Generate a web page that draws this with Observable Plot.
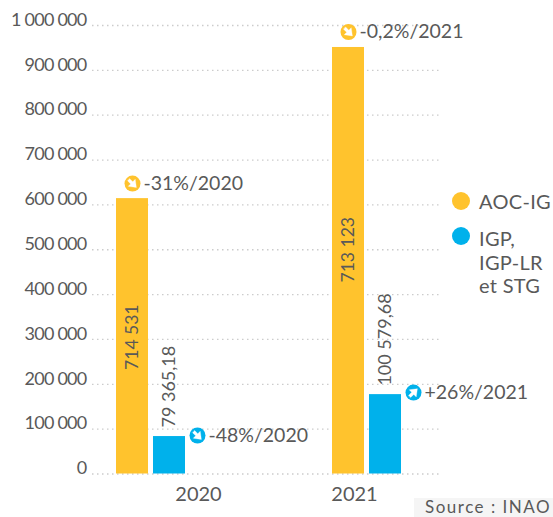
<!DOCTYPE html>
<html>
<head>
<meta charset="utf-8">
<script src="https://cdn.jsdelivr.net/npm/d3@7"></script>
<script src="https://cdn.jsdelivr.net/npm/@observablehq/plot@0.6"></script>
<style>
html,body{margin:0;padding:0;background:#fff;}
#wrap{position:relative;width:553px;height:517px;overflow:hidden;font-family:Lato,sans-serif;color:#595959;}
.dot{position:absolute;width:18px;height:18px;border-radius:50%;}
.lab{position:absolute;left:479px;font-size:20px;line-height:23.5px;letter-spacing:.3px;white-space:nowrap;}
#source{position:absolute;left:414px;top:498px;width:139px;height:19px;background:#f5f5f5;font-size:17px;line-height:17px;padding:0 0 0 11px;box-sizing:border-box;letter-spacing:1.5px;white-space:nowrap;}
g[aria-label="y-axis tick label"] text{letter-spacing:-.75px;}
</style>
</head>
<body>
<div id="wrap">
  <div id="chart"></div>
  <div class="dot" style="left:452px;top:192px;background:#FFC32D"></div>
  <div class="lab" style="top:190px">AOC-IG</div>
  <div class="dot" style="left:452px;top:227px;background:#00B1EB"></div>
  <div class="lab" style="top:227px">IGP,<br>IGP-LR<br>et STG</div>
  <div id="source">Source : INAO</div>
</div>
<script>
const series = ["AOC-IG", "IGP"];
const colors = ["#FFC32D", "#00B1EB"];
const slots = ["2020 AOC-IG", "2020 IGP", "a", "b", "c", "d", "2021 AOC-IG", "2021 IGP"];
const barSlots = ["2020 AOC-IG", "2020 IGP", "2021 AOC-IG", "2021 IGP"];
const barSeries = ["AOC-IG", "IGP", "AOC-IG", "IGP"];
const barHeights = [614000, 83500, 951000, 177000];
const valueLabels = ["714 531", "79 365,18", "713 123", "100 579,68"];
const aocLabelY = [305000, 500000];
const badgeY = [647500, 85800, 985500, 181500];
const badgeText = ["-31%/2020", "-48%/2020", "-0,2%/2021", "+26%/2021"];
const badgeAngle = [135, 135, 135, 45];
const yTicks = [0, 100000, 200000, 300000, 400000, 500000, 600000, 700000, 800000, 900000, 1000000];

const rows = barSlots.map((slot, i) => ({
  slot, series: barSeries[i], h: barHeights[i], label: valueLabels[i],
  badgeY: badgeY[i], badge: badgeText[i], angle: badgeAngle[i]
}));
const aoc = rows.filter(d => d.series === "AOC-IG").map((d, i) => ({...d, labelY: aocLabelY[i]}));
const igp = rows.filter(d => d.series === "IGP");
const fmt = d => d3.format(",")(d).replace(/,/g, " ");
const ink = "#595959";
const font = "Lato, sans-serif";
const wedge = {
  draw(context, l) {
    const h = l / 2, w = h * 0.9;
    context.moveTo(-1.5, 0);
    context.lineTo(-1.5, -0.4 * l);
    context.lineTo(-w, -0.4 * l);
    context.lineTo(0, -l);
    context.lineTo(w, -0.4 * l);
    context.lineTo(1.5, -0.4 * l);
    context.lineTo(1.5, 0);
    context.closePath();
  }
};
const arrowStyle = {rotate: "angle", length: 11, anchor: "middle", stroke: "#fff", strokeWidth: 0.3, fill: "#fff", shape: wedge};

const plot = Plot.plot({
  width: 553, height: 517,
  marginLeft: 92, marginRight: 111, marginTop: 25, marginBottom: 43.5,
  style: {fontFamily: font, background: "transparent", overflow: "visible"},
  x: {domain: slots, range: [114, 402], paddingInner: 0.111, paddingOuter: 0.0555, axis: null},
  y: {domain: [0, 1000000], axis: null},
  color: {domain: series, range: colors},
  marks: [
    Plot.ruleY(yTicks, {stroke: "#cccccc", strokeDasharray: "1.5 3.5", strokeWidth: 1.3}),
    Plot.axisY(yTicks, {anchor: "left", tickSize: 0, tickPadding: 6, dy: -5.5, tickFormat: fmt, fontSize: 18, fill: ink, label: null}),
    Plot.barY(aoc, {x: "slot", y: "h", fill: "series"}),
    Plot.barY(igp, {x: "slot", y: "h", fill: "series", dx: 1}),
    Plot.text(aoc, {x: "slot", y: "labelY", text: "label", rotate: -90, fontSize: 17.5, fill: ink}),
    Plot.text(igp, {x: "slot", y: "h", text: "label", rotate: -90, textAnchor: "start", dx: 1, dy: -9, fontSize: 18, fill: ink}),
    Plot.dot(aoc, {x: "slot", y: "badgeY", r: 8, fill: "series"}),
    Plot.vector(aoc, {x: "slot", y: "badgeY", ...arrowStyle}),
    Plot.text(aoc, {x: "slot", y: "badgeY", text: "badge", textAnchor: "start", dx: 11, fontSize: 19.5, fill: ink}),
    Plot.dot(igp, {x: "slot", y: "badgeY", dx: 29, r: 8, fill: "series"}),
    Plot.vector(igp, {x: "slot", y: "badgeY", dx: 29, ...arrowStyle}),
    Plot.text(igp, {x: "slot", y: "badgeY", text: "badge", textAnchor: "start", dx: 40, fontSize: 19.5, fill: ink}),
    Plot.text(["2020"], {x: () => "2020 IGP", frameAnchor: "bottom", dx: 30, dy: 27, text: d => d, fontSize: 20, fill: ink}),
    Plot.text(["2021"], {x: () => "2021 IGP", frameAnchor: "bottom", dx: -30, dy: 27, text: d => d, fontSize: 20, fill: ink})
  ]
});
document.getElementById("chart").appendChild(plot);
</script>
</body>
</html>
